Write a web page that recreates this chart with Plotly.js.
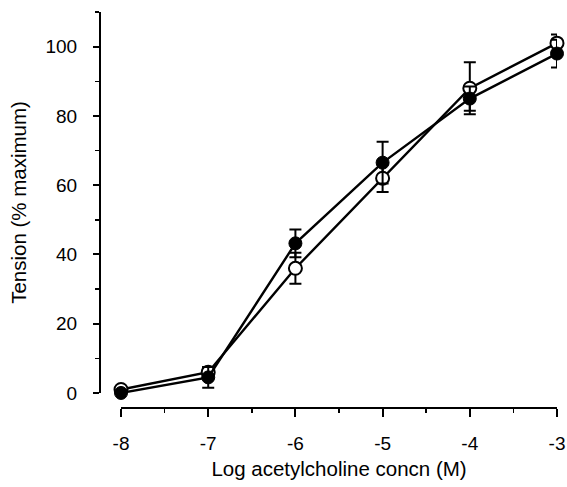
<!DOCTYPE html>
<html>
<head>
<meta charset="utf-8">
<script src="https://cdn.plot.ly/plotly-3.0.1.min.js"></script>
<style>html,body{margin:0;padding:0;background:#fff;}#chart{width:567px;height:487px;}</style>
</head>
<body>
<div id="chart"></div>
<script>
var logConc = [-8, -7, -6, -5, -4, -3];
var filledTension = [0, 4.5, 43.2, 66.5, 85, 98];
var filledErr = [0.8, 3, 4, 6, 3.5, 4];
var openTension = [1, 6, 36, 62, 88, 101];
var openErr = [0.8, 1.5, 4.5, 4, 7.5, 2.5];
var xTickVals = [-8, -7, -6, -5, -4, -3];
var xTickText = ['-8', '-7', '-6', '-5', '-4', '-3'];

var font = 'Liberation Sans, Arial, Helvetica, sans-serif';

var traces = [
  {
    x: logConc, y: openTension, type: 'scatter', mode: 'lines+markers',
    cliponaxis: false,
    line: {color: '#000', width: 2.4},
    marker: {symbol: 'circle', size: 13, color: '#fff', line: {color: '#000', width: 2}},
    error_y: {type: 'data', array: openErr, visible: true, color: '#000', thickness: 2, width: 6}
  },
  {
    x: logConc, y: filledTension, type: 'scatter', mode: 'lines+markers',
    cliponaxis: false,
    line: {color: '#000', width: 2.4},
    marker: {symbol: 'circle', size: 13, color: '#000', line: {color: '#000', width: 1}},
    error_y: {type: 'data', array: filledErr, visible: true, color: '#000', thickness: 2, width: 6}
  }
];

var layout = {
  width: 567, height: 487,
  margin: {l: 100, r: 10, t: 12, b: 79},
  paper_bgcolor: '#fff', plot_bgcolor: '#fff',
  showlegend: false,
  font: {family: font, color: '#000', size: 19},
  xaxis: {
    domain: [0.046, 1],
    range: [-8, -3],
    anchor: 'free', position: 0,
    showgrid: false, zeroline: false,
    showline: true, linecolor: '#000', linewidth: 2,
    ticks: 'outside', ticklen: 8, tickwidth: 2, tickcolor: '#000',
    tickvals: xTickVals, ticktext: xTickText,
    ticklabelstandoff: 10,
    tickfont: {family: font, size: 19, color: '#000'},
    minor: {dtick: 0.5, tick0: -8, ticks: 'outside', ticklen: 4, tickwidth: 1.5, tickcolor: '#000', showgrid: false},
    title: {text: 'Log acetylcholine concn (M)', font: {family: font, size: 20.5, color: '#000'}, standoff: 8}
  },
  yaxis: {
    domain: [0.038, 1],
    range: [0, 110],
    anchor: 'free', position: 0,
    showgrid: false, zeroline: false,
    showline: true, linecolor: '#000', linewidth: 2,
    ticks: 'outside', ticklen: 6, tickwidth: 2, tickcolor: '#000',
    tickvals: [0, 20, 40, 60, 80, 100],
    ticklabelstandoff: 12,
    tickfont: {family: font, size: 19, color: '#000'},
    minor: {dtick: 10, tick0: 0, ticks: 'outside', ticklen: 4, tickwidth: 1.5, tickcolor: '#000', showgrid: false},
    title: {text: 'Tension (% maximum)', font: {family: font, size: 20.5, color: '#000'}, standoff: 12}
  }
};

Plotly.newPlot('chart', traces, layout, {displayModeBar: false, staticPlot: true});
</script>
</body>
</html>
